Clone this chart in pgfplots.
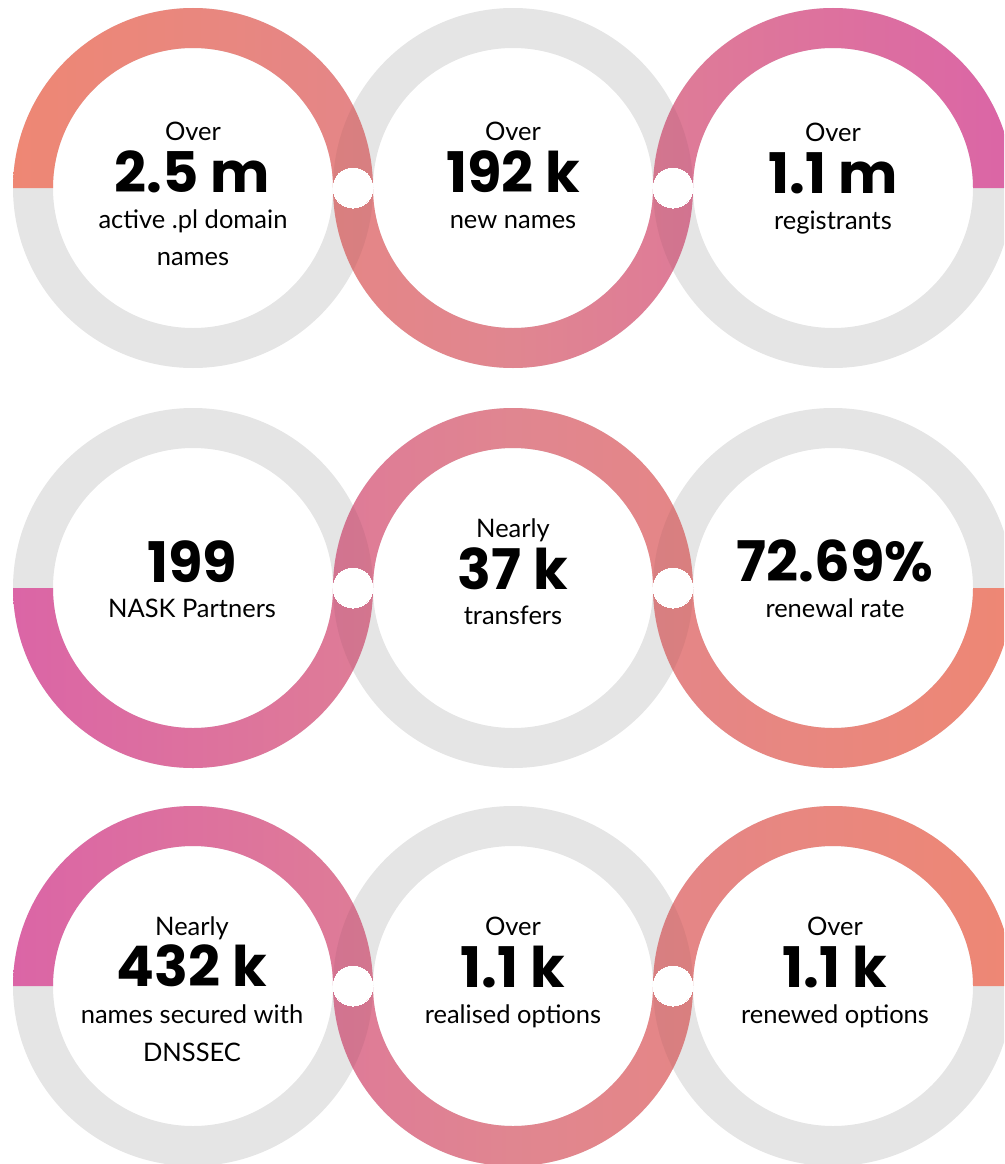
\documentclass[border=0pt]{standalone}
\usepackage{pgfplots}
\pgfplotsset{compat=1.18}
\usepackage{fontspec}
\setmainfont{Lato}
\newfontfamily\lightfont{Lato}
\newfontfamily\numfont{Poppins}
\definecolor{ringgray}{HTML}{E5E5E5}
\definecolor{cA}{HTML}{EE8774}
\definecolor{cM}{HTML}{E08690}
\definecolor{cB}{HTML}{DB65A6}
% ring centres (px): columns 193, 513, 833; rows 188, 588, 986
\newcommand{\grayring}[2]{\fill[ringgray,even odd rule] (axis cs:#1,#2) circle[radius=180pt] (axis cs:#1,#2) circle[radius=140pt];}
\newcommand{\lens}[3]{\begin{scope}\clip (axis cs:#1,#3) circle[radius=180pt];\fill[black,opacity=0.05] (axis cs:#2,#3) circle[radius=180pt];\end{scope}}
\newcommand{\sm}{\lightfont\fontsize{25.5}{28}\selectfont}
\newcommand{\bg}{\numfont\bfseries\fontsize{56}{60}\selectfont}
\begin{document}
\begin{tikzpicture}
\begin{axis}[x=1pt,y=1pt,xmin=0,xmax=1004,ymin=0,ymax=1164,y dir=reverse,
  hide axis,clip=true,clip mode=global]
% gray rings
\grayring{193}{188}\grayring{513}{188}\grayring{833}{188}
\grayring{193}{588}\grayring{513}{588}\grayring{833}{588}
\grayring{193}{986}\grayring{513}{986}\grayring{833}{986}
% row 1: top, bottom, top  (orange -> magenta)
\shade[left color=cA,right color=cB,middle color=cM]
 (axis cs:13,188) arc[start angle=180,end angle=0,radius=180pt] -- (axis cs:333,188) arc[start angle=0,end angle=180,radius=140pt] -- cycle
 (axis cs:333,188) arc[start angle=180,end angle=360,radius=180pt] -- (axis cs:653,188) arc[start angle=360,end angle=180,radius=140pt] -- cycle
 (axis cs:653,188) arc[start angle=180,end angle=0,radius=180pt] -- (axis cs:973,188) arc[start angle=0,end angle=180,radius=140pt] -- cycle;
% row 2: bottom, top, bottom (magenta -> orange)
\shade[left color=cB,right color=cA,middle color=cM]
 (axis cs:13,588) arc[start angle=180,end angle=360,radius=180pt] -- (axis cs:333,588) arc[start angle=360,end angle=180,radius=140pt] -- cycle
 (axis cs:333,588) arc[start angle=180,end angle=0,radius=180pt] -- (axis cs:653,588) arc[start angle=0,end angle=180,radius=140pt] -- cycle
 (axis cs:653,588) arc[start angle=180,end angle=360,radius=180pt] -- (axis cs:973,588) arc[start angle=360,end angle=180,radius=140pt] -- cycle;
% row 3: top, bottom, top (magenta -> orange)
\shade[left color=cB,right color=cA,middle color=cM]
 (axis cs:13,986) arc[start angle=180,end angle=0,radius=180pt] -- (axis cs:333,986) arc[start angle=0,end angle=180,radius=140pt] -- cycle
 (axis cs:333,986) arc[start angle=180,end angle=360,radius=180pt] -- (axis cs:653,986) arc[start angle=360,end angle=180,radius=140pt] -- cycle
 (axis cs:653,986) arc[start angle=180,end angle=0,radius=180pt] -- (axis cs:973,986) arc[start angle=0,end angle=180,radius=140pt] -- cycle;
% overlaps
\lens{193}{513}{188}\lens{513}{833}{188}
\lens{193}{513}{588}\lens{513}{833}{588}
\lens{193}{513}{986}\lens{513}{833}{986}
% white link dots
\addplot[only marks,mark=*,mark size=20pt,mark options={draw=white,fill=white,line width=0pt}]
 coordinates {(353,188) (673,188) (353,588) (673,588) (353,986) (673,986)};
\tikzset{every node/.style={inner sep=0pt,outer sep=0pt,text=black}}
% texts row 1
\node[anchor=base,font=\sm] at (axis cs:193,140) {Over};
\node[anchor=base,font=\bg] at (axis cs:192,192) {2.5 m};
\node[anchor=base,font=\sm] at (axis cs:193,228) {active .pl domain};
\node[anchor=base,font=\sm] at (axis cs:193,265) {names};
\node[anchor=base,font=\sm] at (axis cs:513,140) {Over};
\node[anchor=base,font=\bg] at (axis cs:513,192) {192 k};
\node[anchor=base,font=\sm] at (axis cs:513,228) {new names};
\node[anchor=base,font=\sm] at (axis cs:833,141) {Over};
\node[anchor=base,font=\bg] at (axis cs:833,193) {1.1 m};
\node[anchor=base,font=\sm] at (axis cs:833,229) {registrants};
% texts row 2
\node[anchor=base,font=\bg] at (axis cs:192,582) {199};
\node[anchor=base,font=\sm] at (axis cs:192,617) {NASK Partners};
\node[anchor=base,font=\sm] at (axis cs:513,537) {Nearly};
\node[anchor=base,font=\bg] at (axis cs:513,589) {37 k};
\node[anchor=base,font=\sm] at (axis cs:513,624) {transfers};
\node[anchor=base,font=\bg] at (axis cs:835,581) {72.69\%};
\node[anchor=base,font=\sm] at (axis cs:835,617) {renewal rate};
% texts row 3
\node[anchor=base,font=\sm] at (axis cs:192,935) {Nearly};
\node[anchor=base,font=\bg] at (axis cs:192,986) {432 k};
\node[anchor=base,font=\sm] at (axis cs:192,1023) {names secured with};
\node[anchor=base,font=\sm] at (axis cs:192,1061) {DNSSEC};
\node[anchor=base,font=\sm] at (axis cs:513,935) {Over};
\node[anchor=base,font=\bg] at (axis cs:513,987) {1.1 k};
\node[anchor=base,font=\sm] at (axis cs:513,1023) {realised options};
\node[anchor=base,font=\sm] at (axis cs:835,935) {Over};
\node[anchor=base,font=\bg] at (axis cs:835,987) {1.1 k};
\node[anchor=base,font=\sm] at (axis cs:835,1023) {renewed options};
\end{axis}
\pgfresetboundingbox
\path (current axis.south west) rectangle (current axis.north east);
\end{tikzpicture}
\end{document}
